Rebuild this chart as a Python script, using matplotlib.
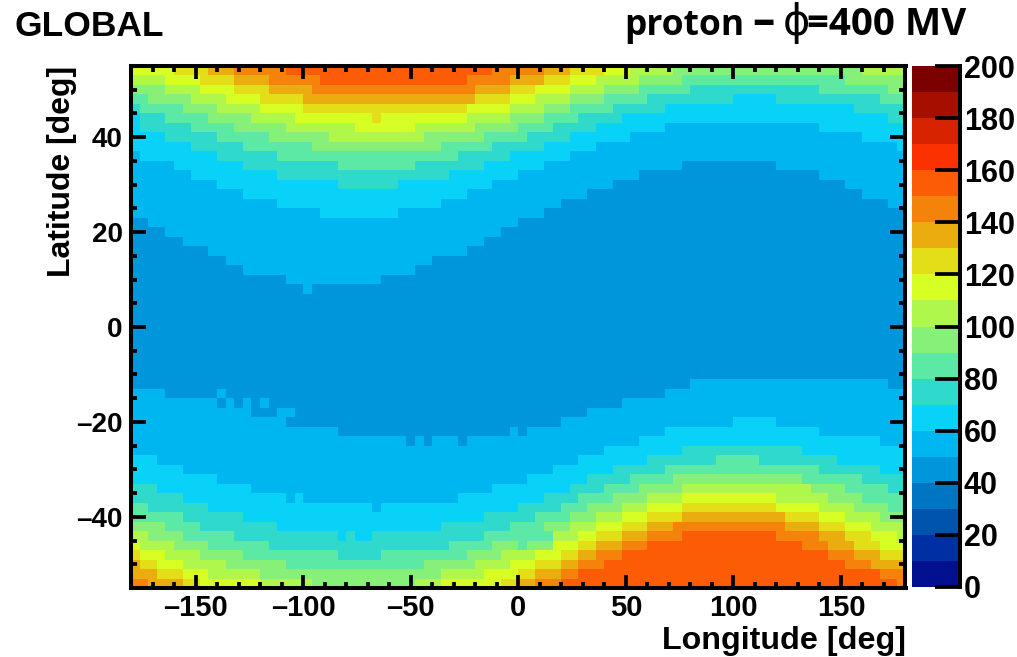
#!/usr/bin/env python3
# -*- coding: utf-8 -*-

import numpy as np
import matplotlib
matplotlib.use('Agg')
import matplotlib.pyplot as plt
from matplotlib.colors import BoundaryNorm, ListedColormap
from matplotlib.ticker import FixedLocator


W, H = 1017, 657

LON_TICKS = [-150, -100, -50, 0, 50, 100, 150]
LON_LABELS = ['–150', '–100', '–50', '0', '50', '100', '150']
LAT_TICKS = [-40, -20, 0, 20, 40]
LAT_LABELS = ['–40', '–20', '0', '20', '40']
BAR_TICKS = [0, 20, 40, 60, 80, 100, 120, 140, 160, 180, 200]

# 20 colour bands of 10 each, bottom to top
BAND_COLORS = [
    '#00108f', '#002ea3', '#0054ad', '#0075c2', '#0096dc',
    '#00b6f0', '#08d2f8', '#2fdacd', '#5ce8a5', '#87f078',
    '#aff84b', '#d7ff23', '#e4de19', '#ebac0f', '#f5820a',
    '#fb5c05', '#fb3200', '#d72300', '#a50f00', '#7d0000',
]

# each row, from lat 55 down: flux, last column, flux, last column, ... (90 columns of 4 deg)
ROWS = [
    [115,5, 125,9, 135,12, 145,18, 155,42, 145,48, 135,51, 125,55, 115,58, 105,63, 95,85, 105,90],
    [105,4, 115,8, 125,12, 135,16, 145,22, 155,39, 145,44, 135,48, 125,51, 115,54, 105,59, 95,64, 85,83, 95,90],
    [95,4, 105,8, 115,12, 125,16, 135,21, 145,40, 135,44, 125,47, 115,51, 105,55, 95,59, 85,65, 75,80, 85,88, 95,90],
    [85,2, 95,7, 105,11, 115,15, 125,20, 135,40, 125,44, 115,47, 105,51, 95,55, 85,60, 75,70, 65,75, 75,87, 85,90],
    [75,1, 85,6, 95,10, 105,15, 115,20, 125,39, 115,44, 105,48, 95,51, 85,56, 75,62, 65,84, 75,90],
    [65,1, 75,4, 85,9, 95,14, 105,19, 115,28, 125,29, 115,39, 105,44, 95,48, 85,52, 75,57, 65,88, 75,90],
    [65,1, 75,7, 85,12, 95,18, 105,26, 115,33, 105,40, 95,45, 85,49, 75,54, 65,62, 55,80, 65,90],
    [65,4, 75,10, 85,16, 95,23, 105,34, 95,41, 85,46, 75,51, 65,58, 55,85, 65,90],
    [65,7, 75,13, 85,21, 95,36, 85,42, 75,48, 65,54, 55,89, 65,90],
    [55,1, 65,10, 75,17, 85,38, 75,44, 65,51, 55,90],
    [55,5, 65,13, 75,24, 85,33, 75,41, 65,48, 55,64, 45,75, 55,90],
    [55,7, 65,17, 75,37, 65,45, 55,59, 45,80, 55,90],
    [55,10, 65,24, 75,31, 65,42, 55,56, 45,83, 55,90],
    [55,13, 65,39, 55,53, 45,85, 55,90],
    [55,17, 65,36, 55,50, 45,88, 55,90],
    [55,22, 65,31, 55,48, 45,90],
    [45,2, 55,45, 45,90],
    [45,4, 55,43, 45,90],
    [45,6, 55,41, 45,90],
    [45,9, 55,39, 45,90],
    [45,11, 55,35, 45,90],
    [45,13, 55,33, 45,90],
    [45,18, 55,29, 45,90],
    [45,20, 55,21, 45,90],
    [45,90], [45,90], [45,90], [45,90], [45,90], [45,90], [45,90], [45,90], [45,90],
    [45,65, 55,88, 45,90],
    [55,4, 45,10, 55,11, 45,62, 55,90],
    [55,10, 45,11, 55,12, 45,13, 55,14, 45,15, 55,16, 45,57, 55,90],
    [55,14, 45,17, 55,19, 45,53, 55,90],
    [55,18, 45,50, 55,70, 65,75, 55,90],
    [55,24, 45,44, 55,45, 45,46, 55,62, 65,80, 55,90],
    [55,32, 45,33, 55,34, 45,35, 55,38, 45,39, 55,59, 65,87, 55,90],
    [55,55, 65,64, 75,78, 65,90],
    [65,3, 55,52, 65,60, 75,68, 85,73, 75,82, 65,90],
    [65,6, 55,49, 65,56, 75,62, 85,80, 75,87, 65,90],
    [65,10, 55,46, 65,53, 75,58, 85,63, 95,78, 85,85, 75,90],
    [75,3, 65,14, 55,42, 65,51, 75,55, 85,59, 95,64, 105,79, 95,83, 85,88, 75,90],
    [75,6, 65,18, 55,19, 65,20, 55,38, 65,48, 75,52, 85,56, 95,60, 105,64, 115,75, 105,81, 95,85, 85,90],
    [85,2, 75,9, 65,28, 55,29, 65,45, 75,50, 85,53, 95,57, 105,60, 115,64, 125,75, 115,80, 105,84, 95,88, 85,90],
    [85,6, 75,13, 65,41, 75,47, 85,51, 95,54, 105,57, 115,60, 125,64, 135,76, 125,80, 115,83, 105,87, 95,90],
    [95,4, 85,8, 75,17, 65,36, 75,44, 85,48, 95,51, 105,54, 115,57, 125,60, 135,63, 145,76, 135,80, 125,83, 115,86, 105,90],
    [105,2, 95,6, 85,12, 75,24, 65,25, 75,26, 65,28, 75,41, 85,49, 105,52, 115,54, 125,57, 135,60, 145,64, 155,75, 145,80, 135,83, 125,86, 115,89, 105,90],
    [115,1, 105,5, 95,9, 85,16, 75,37, 85,42, 95,45, 85,46, 95,49, 115,52, 125,54, 135,57, 145,60, 155,78, 145,81, 135,84, 125,87, 115,90],
    [125,1, 115,4, 105,8, 95,13, 85,24, 75,29, 85,39, 95,43, 105,47, 115,50, 125,52, 135,54, 145,57, 155,81, 145,84, 135,87, 125,90],
    [135,1, 125,3, 115,6, 105,11, 95,18, 85,34, 95,40, 105,44, 115,47, 125,50, 135,52, 145,55, 155,83, 145,86, 135,90],
    [135,3, 125,6, 115,9, 105,15, 95,36, 105,41, 115,45, 125,47, 135,50, 145,52, 155,87, 145,90],
    [145,2, 135,6, 125,8, 115,15, 105,21, 95,33, 105,36, 115,43, 125,45, 135,47, 145,50, 155,89, 145,90],
]


def row_values(row):
    values = []
    start = 0
    for flux, stop in zip(row[::2], row[1::2]):
        values += [flux] * (stop - start)
        start = stop
    return values


grid = np.array([row_values(r) for r in ROWS])[::-1]
lon_edges = np.linspace(-180, 180, grid.shape[1] + 1)
lat_edges = np.linspace(-55, 55, grid.shape[0] + 1)

levels = np.arange(0, 201, 10)
cmap = ListedColormap(BAND_COLORS)
norm = BoundaryNorm(levels, cmap.N)

plt.rcParams['font.family'] = 'Liberation Sans'
plt.rcParams['font.weight'] = 'bold'
plt.rcParams['axes.linewidth'] = 2.9

fig = plt.figure(figsize=(W / 100, H / 100), dpi=100)

ax = fig.add_axes([131 / W, (H - 588) / H, 774.5 / W, 522 / H])
ax.pcolormesh(lon_edges, lat_edges, grid, cmap=cmap, norm=norm, rasterized=True)
ax.set_xlim(-180, 180)
ax.set_ylim(-55, 55)
ax.set_xticks(LON_TICKS, LON_LABELS)
ax.set_yticks(LAT_TICKS, LAT_LABELS)
ax.xaxis.set_minor_locator(FixedLocator(np.arange(-170, 180, 10)))
ax.yaxis.set_minor_locator(FixedLocator(np.arange(-50, 55, 5)))
ax.tick_params(axis='x', which='major', direction='in', top=True, length=9.5, width=2.7, labelsize=21, pad=4)
ax.tick_params(axis='x', which='minor', direction='in', top=True, length=4.5, width=2.7)
ax.tick_params(axis='y', which='major', direction='in', right=True, length=10.5, width=2.7, labelsize=20, pad=6)
ax.tick_params(axis='y', which='minor', direction='in', right=True, length=4.5, width=2.7)

cax = fig.add_axes([912 / W, (H - 587) / H, 47.5 / W, 521 / H])
cax.pcolormesh([0, 1], levels, np.array(levels[:-1] + 5).reshape(-1, 1), cmap=cmap, norm=norm)
cax.set_xlim(0, 1)
cax.set_ylim(0, 200)
cax.set_xticks([])
cax.set_yticks(BAR_TICKS)
for side in ['left', 'top', 'bottom']:
    cax.spines[side].set_visible(False)
cax.yaxis.tick_right()
cax.tick_params(axis='y', direction='in', length=18, width=2.7, labelsize=22, pad=3)

fig.text(906 / W, 1 - 641 / H, 'Longitude [deg]', ha='right', va='center', fontsize=23.2)
fig.text(62 / W, 1 - 66 / H, 'Latitude [deg]', ha='center', va='top', rotation=90, fontsize=23)
fig.text(15 / W, 1 - 26 / H, 'GLOBAL', ha='left', va='center', fontsize=25.5)

# title in pieces, the phi in the reference is a thin symbol glyph
fig.text(624 / W, 1 - 35 / H, 'proton', ha='left', va='baseline', fontsize=25.5, family='Open Sans')
fig.text(763 / W, 1 - 35 / H, '–', ha='center', va='baseline', fontsize=32, family='Open Sans')
fig.text(796 / W, 1 - 35 / H, 'ϕ', ha='center', va='baseline', fontsize=30, fontweight='normal', family='DejaVu Sans')
fig.text(807 / W, 1 - 35 / H, '=400 MV', ha='left', va='baseline', fontsize=27.7, family='Open Sans')

fig.savefig('out.png', dpi=100)
